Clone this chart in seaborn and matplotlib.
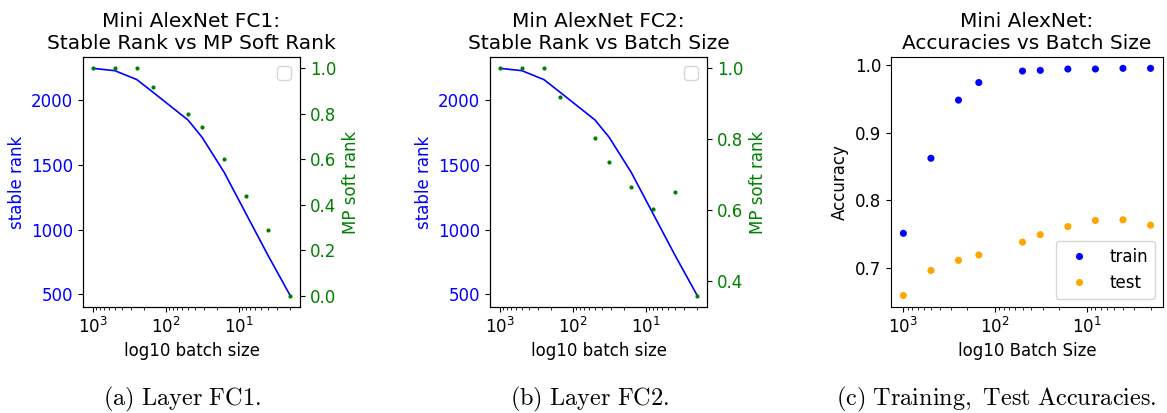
import numpy as np
import pandas as pd
import seaborn as sns
import matplotlib.pyplot as plt
import warnings

warnings.filterwarnings("ignore")

# batch sizes (x axis, log scale, inverted)
batch_sizes = [1000, 500, 250, 150, 50, 32, 16, 8, 4, 2]

# stable rank (same curve in both layer panels)
stable_rank_fc1 = [2247, 2229, 2160, 2062, 1848, 1714, 1444, 1122, 800, 492]
stable_rank_fc2 = [2247, 2229, 2160, 2062, 1848, 1714, 1444, 1122, 800, 492]

# MP soft rank
mp_soft_fc1 = [1.0, 1.0, 1.0, 0.92, 0.80, 0.74, 0.60, 0.44, 0.29, 0.0]
mp_soft_fc2 = [1.0, 1.0, 1.0, 0.92, 0.804, 0.737, 0.667, 0.605, 0.653, 0.36]

# accuracies
train_acc = [0.751, 0.862, 0.948, 0.974, 0.991, 0.992, 0.994, 0.994, 0.995, 0.995]
test_acc = [0.659, 0.696, 0.711, 0.719, 0.738, 0.749, 0.761, 0.770, 0.771, 0.763]

titles = ["Mini AlexNet FC1:\nStable Rank vs MP Soft Rank",
          "Min AlexNet FC2:\nStable Rank vs Batch Size",
          "Mini AlexNet:\nAccuracies vs Batch Size"]
captions = ["(a) Layer FC1.", "(b) Layer FC2.", "(c) Training, Test Accuracies."]

plt.rcParams['mathtext.fontset'] = 'cm'
FS = 12

fig = plt.figure(figsize=(11.67, 4.13), dpi=100)
positions = [[0.0711, 0.257, 0.186, 0.605],
             [0.4199, 0.257, 0.186, 0.605],
             [0.7635, 0.257, 0.2330, 0.605]]


def rank_panel(pos, srank, mpsoft, title):
    ax = fig.add_axes(pos)
    df = pd.DataFrame({"batch": batch_sizes, "srank": srank, "mp": mpsoft})
    sns.lineplot(data=df, x="batch", y="srank", color="blue", linewidth=1.2, ax=ax)
    ax.set_xscale("log")
    ax.invert_xaxis()
    ax.set_xlabel("log10 batch size", fontsize=FS)
    ax.set_ylabel("stable rank", color="blue", fontsize=FS)
    ax.tick_params(axis="y", labelcolor="blue", labelsize=FS)
    ax.tick_params(axis="x", labelsize=FS)
    ax.set_title(title, fontsize=14.5)
    ax2 = ax.twinx()
    sns.scatterplot(data=df, x="batch", y="mp", color="green", s=9, linewidth=0, ax=ax2)
    ax2.set_ylabel("MP soft rank", color="green", fontsize=FS)
    ax2.tick_params(axis="y", labelcolor="green", labelsize=FS)
    ax2.legend(loc="upper right", fontsize=13)
    return ax


rank_panel(positions[0], stable_rank_fc1, mp_soft_fc1, titles[0])
rank_panel(positions[1], stable_rank_fc2, mp_soft_fc2, titles[1])

ax3 = fig.add_axes(positions[2])
acc = pd.DataFrame({"batch": batch_sizes * 2,
                    "acc": train_acc + test_acc,
                    "split": ["train"] * len(batch_sizes) + ["test"] * len(batch_sizes)})
sns.scatterplot(data=acc, x="batch", y="acc", hue="split",
                palette={"train": "blue", "test": "orange"}, s=26, linewidth=0, ax=ax3)
ax3.set_xscale("log")
ax3.invert_xaxis()
ax3.set_xlabel("log10 Batch Size", fontsize=FS)
ax3.set_ylabel("Accuracy", fontsize=FS)
ax3.set_yticks([0.7, 0.8, 0.9, 1.0])
ax3.tick_params(labelsize=FS)
ax3.set_title(titles[2], fontsize=14.5)
ax3.legend(loc="lower right", fontsize=FS, title=None)

cap_x = [0.156, 0.5056, 0.854]
for x, c in zip(cap_x, captions):
    fig.text(x, 0.018, r"$\mathrm{" + c.replace(" ", r"\ ") + "}$",
             ha="center", va="baseline", fontsize=17.5)

fig.savefig("out.png", dpi=100)
